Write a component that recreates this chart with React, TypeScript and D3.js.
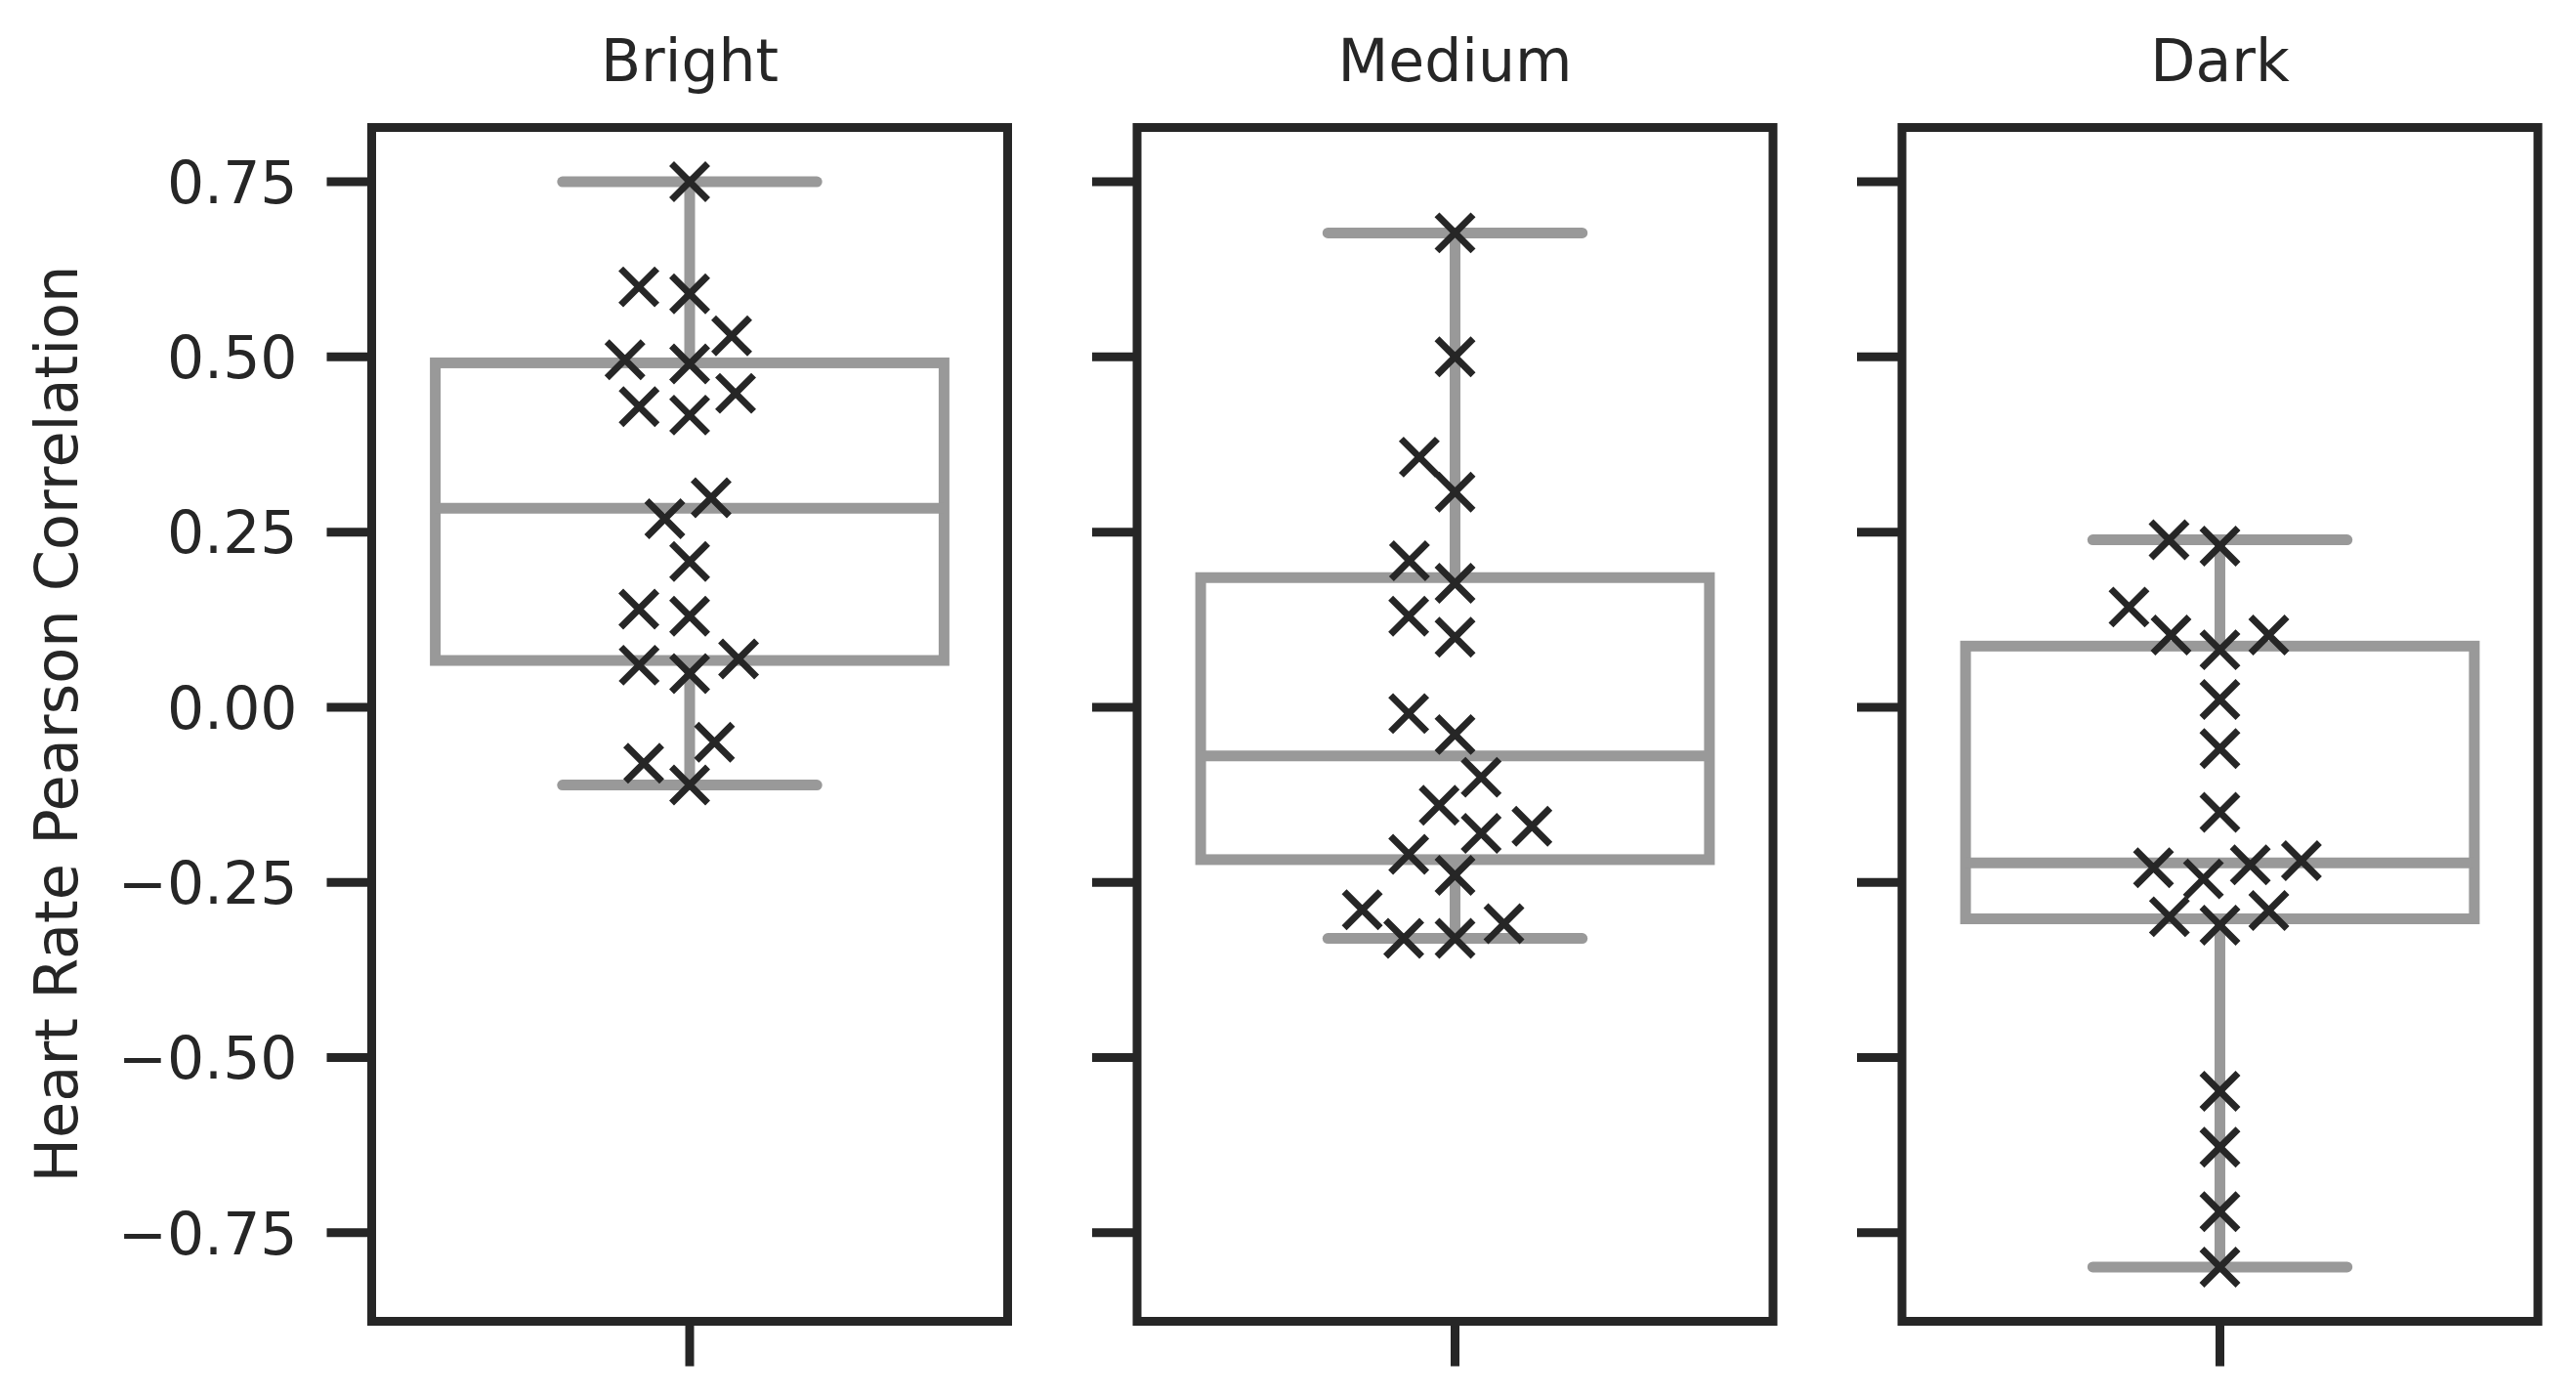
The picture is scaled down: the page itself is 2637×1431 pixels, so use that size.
import React from 'react';
import * as d3 from 'd3';

// panel titles (one light condition per subplot)
const conditions = ['Bright', 'Medium', 'Dark'];

// heart rate pearson correlation per subject
const bright = [0.75, 0.6, 0.59, 0.53, 0.49, 0.496, 0.448, 0.429, 0.417, 0.299, 0.269, 0.208, 0.14, 0.13, 0.06, 0.048, 0.069, -0.05, -0.08, -0.111];
const medium = [0.677, 0.5, 0.357, 0.307, 0.209, 0.177, 0.13, 0.1, -0.009, -0.039, -0.1, -0.14, -0.18, -0.17, -0.21, -0.24, -0.289, -0.33, -0.33, -0.309];
const dark = [0.239, 0.23, 0.143, 0.103, 0.082, 0.103, 0.011, -0.059, -0.15, -0.229, -0.225, -0.219, -0.245, -0.299, -0.311, -0.29, -0.548, -0.628, -0.72, -0.799];

const yTicks = [-0.75, -0.5, -0.25, 0, 0.25, 0.5, 0.75];
const yLabel = 'Heart Rate Pearson Correlation';

const W = 2637;
const H = 1431;
const top = 130.5;
const bottom = 1352.5;
const panelLeft = [380.5, 1164, 1947];
const panelW = 651;
const ink = '#262626';
const gray = '#999999';
const fontSize = 60;
const font = '"DejaVu Sans", Verdana, sans-serif';
const R = 25; // swarm point radius in px
const tickLen = 46;

const series = [bright, medium, dark];

// seaborn-like beeswarm, done in pixel space
function beeswarm(values: number[], yScale: d3.ScaleLinear<number, number>, cx: number) {
  const pts = values.map((v, i) => ({ i, v, x: cx, y: -yScale(v) }));
  const sorted = [...pts].sort((a, b) => a.y - b.y);
  const swarm: { i: number; v: number; x: number; y: number }[] = [];
  sorted.forEach((p, k) => {
    if (k === 0) {
      swarm.push({ ...p });
      return;
    }
    const neighbors = [];
    for (let j = swarm.length - 1; j >= 0; j--) {
      if (p.y - swarm[j].y < 2 * R) neighbors.push(swarm[j]);
      else break;
    }
    const cands = [{ x: p.x }];
    let leftFirst = true;
    neighbors.forEach((n) => {
      const dy = p.y - n.y;
      const dx = Math.sqrt(Math.max(4 * R * R - dy * dy, 0)) * 1.05;
      const cl = { x: n.x - dx };
      const cr = { x: n.x + dx };
      if (leftFirst) cands.push(cl, cr);
      else cands.push(cr, cl);
      leftFirst = !leftFirst;
    });
    cands.sort((a, b) => Math.abs(a.x - cx) - Math.abs(b.x - cx));
    let chosen = cands[0];
    if (neighbors.length) {
      chosen =
        cands.find((c) =>
          neighbors.every((n) => (n.x - c.x) ** 2 + (n.y - p.y) ** 2 >= 4 * R * R)
        ) || cands[0];
    }
    swarm.push({ ...p, x: chosen.x });
  });
  return swarm;
}

function boxStats(values: number[]) {
  const s = [...values].sort(d3.ascending);
  const q1 = d3.quantile(s, 0.25)!;
  const med = d3.quantile(s, 0.5)!;
  const q3 = d3.quantile(s, 0.75)!;
  const iqr = q3 - q1;
  const lo = d3.min(s.filter((v) => v >= q1 - 1.5 * iqr))!;
  const hi = d3.max(s.filter((v) => v <= q3 + 1.5 * iqr))!;
  return { q1, med, q3, lo, hi };
}

const fmt = (v: number) => d3.format('.2f')(v).replace('-', '\u2212');

function Panel({ idx, yScale }: { idx: number; yScale: d3.ScaleLinear<number, number> }) {
  const values = series[idx];
  const x = d3.scaleLinear().domain([-0.5, 0.5]).range([0, panelW]);
  const b = boxStats(values);
  const pts = beeswarm(values, yScale, x(0));
  const m = 18.5;
  return (
    <g transform={`translate(${panelLeft[idx]},0)`}>
      <text
        x={x(0)}
        y={83.3}
        textAnchor="middle"
        fontSize={fontSize}
        fontFamily={font}
        fill={ink}
      >
        {conditions[idx]}
      </text>

      {/* box and whiskers */}
      <g stroke={gray} strokeWidth={11} fill="none">
        <rect
          x={x(-0.4)}
          y={yScale(b.q3)}
          width={x(0.4) - x(-0.4)}
          height={yScale(b.q1) - yScale(b.q3)}
          strokeLinejoin="miter"
        />
        <line x1={x(-0.4)} x2={x(0.4)} y1={yScale(b.med)} y2={yScale(b.med)} />
        <line x1={x(0)} x2={x(0)} y1={yScale(b.q3)} y2={yScale(b.hi)} />
        <line x1={x(0)} x2={x(0)} y1={yScale(b.q1)} y2={yScale(b.lo)} />
        <line x1={x(-0.2)} x2={x(0.2)} y1={yScale(b.hi)} y2={yScale(b.hi)} strokeLinecap="round" />
        <line x1={x(-0.2)} x2={x(0.2)} y1={yScale(b.lo)} y2={yScale(b.lo)} strokeLinecap="round" />
      </g>

      {/* swarm of x markers */}
      <g stroke={ink} strokeWidth={7} fill="none">
        {pts.map((p) => {
          const py = yScale(p.v);
          return (
            <path
              key={p.i}
              d={`M${p.x - m},${py - m}L${p.x + m},${py + m}M${p.x - m},${py + m}L${p.x + m},${py - m}`}
            />
          );
        })}
      </g>

      {/* y ticks */}
      {yTicks.map((t) => (
        <g key={t} transform={`translate(0,${yScale(t)})`}>
          <line x1={0} x2={-tickLen} stroke={ink} strokeWidth={9} />
          {idx === 0 && (
            <text
              x={-76}
              y={fontSize * 0.364}
              textAnchor="end"
              fontSize={fontSize}
              fontFamily={font}
              fill={ink}
            >
              {fmt(t)}
            </text>
          )}
        </g>
      ))}

      {/* x tick */}
      <line x1={x(0)} x2={x(0)} y1={bottom} y2={bottom + tickLen} stroke={ink} strokeWidth={9} />

      {/* spines */}
      <rect
        x={0}
        y={top}
        width={panelW}
        height={bottom - top}
        fill="none"
        stroke={ink}
        strokeWidth={9}
      />
    </g>
  );
}

export default function App() {
  const all = series.flat();
  const [mn, mx] = d3.extent(all) as [number, number];
  const pad = (mx - mn) * 0.05;
  const yScale = d3.scaleLinear().domain([mn - pad, mx + pad]).range([bottom, top]);

  return (
    <svg
      width={W}
      height={H}
      viewBox={`0 0 ${W} ${H}`}
      style={{ position: 'absolute', left: 0, top: 0, display: 'block', background: '#fff' }}
    >
      <rect width={W} height={H} fill="#fff" />
      {conditions.map((c, i) => (
        <Panel key={c} idx={i} yScale={yScale} />
      ))}
      <text
        transform={`translate(79,741) rotate(-90)`}
        textAnchor="middle"
        fontSize={60.5}
        fontFamily={font}
        fill={ink}
      >
        {yLabel}
      </text>
    </svg>
  );
}
